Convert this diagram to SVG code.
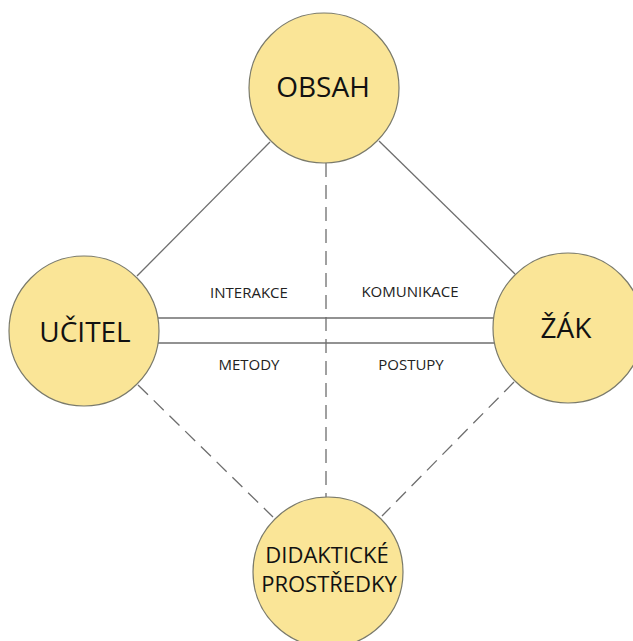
<svg xmlns="http://www.w3.org/2000/svg" width="633" height="641" viewBox="0 0 633 641">
<style>
.node{fill:#FAE597;stroke:#7a7a6a;stroke-width:1.2}
.big{font-family:"Open Sans","Liberation Sans",sans-serif;font-size:28px;fill:#111;text-anchor:middle}
.mid{font-family:"Open Sans","Liberation Sans",sans-serif;font-size:22px;fill:#111;text-anchor:middle}
.lab{font-family:"Open Sans","Liberation Sans",sans-serif;font-size:15px;fill:#222;text-anchor:middle}
.solid{stroke:#6e6e6e;stroke-width:1.3;fill:none}
.dash{stroke:#6e6e6e;stroke-width:1.3;fill:none;stroke-dasharray:14 8}
</style>
<rect width="633" height="641" fill="#fff"/>
<g id="connectors">
<line class="solid" x1="270" y1="142" x2="137" y2="276"/>
<line class="solid" x1="379" y1="141" x2="515" y2="274"/>
<line class="dash" x1="138" y1="385" x2="273" y2="517"/>
<line class="dash" x1="514" y1="382" x2="382" y2="516"/>
<line class="dash" x1="326" y1="163" x2="326" y2="497"/>
<line class="solid" x1="158" y1="318" x2="494" y2="318"/>
<line class="solid" x1="158" y1="343" x2="494" y2="343"/>
<text class="lab" x="249" y="298">INTERAKCE</text>
<text class="lab" x="410" y="297">KOMUNIKACE</text>
<text class="lab" x="249" y="370">METODY</text>
<text class="lab" x="411" y="370">POSTUPY</text>
</g>
<g id="obsah">
<circle class="node" cx="324" cy="88" r="75"/>
<text class="big" x="323" y="97">OBSAH</text>
</g>
<g id="ucitel">
<circle class="node" cx="84" cy="331" r="75"/>
<text class="big" x="85" y="342">UČITEL</text>
</g>
<g id="zak">
<circle class="node" cx="568" cy="328" r="75"/>
<text class="big" x="566" y="338">ŽÁK</text>
</g>
<g id="didakticke">
<circle class="node" cx="328" cy="572" r="75"/>
<text class="mid" x="327" y="563">DIDAKTICKÉ</text>
<text class="mid" x="329" y="592">PROSTŘEDKY</text>
</g>
</svg>
